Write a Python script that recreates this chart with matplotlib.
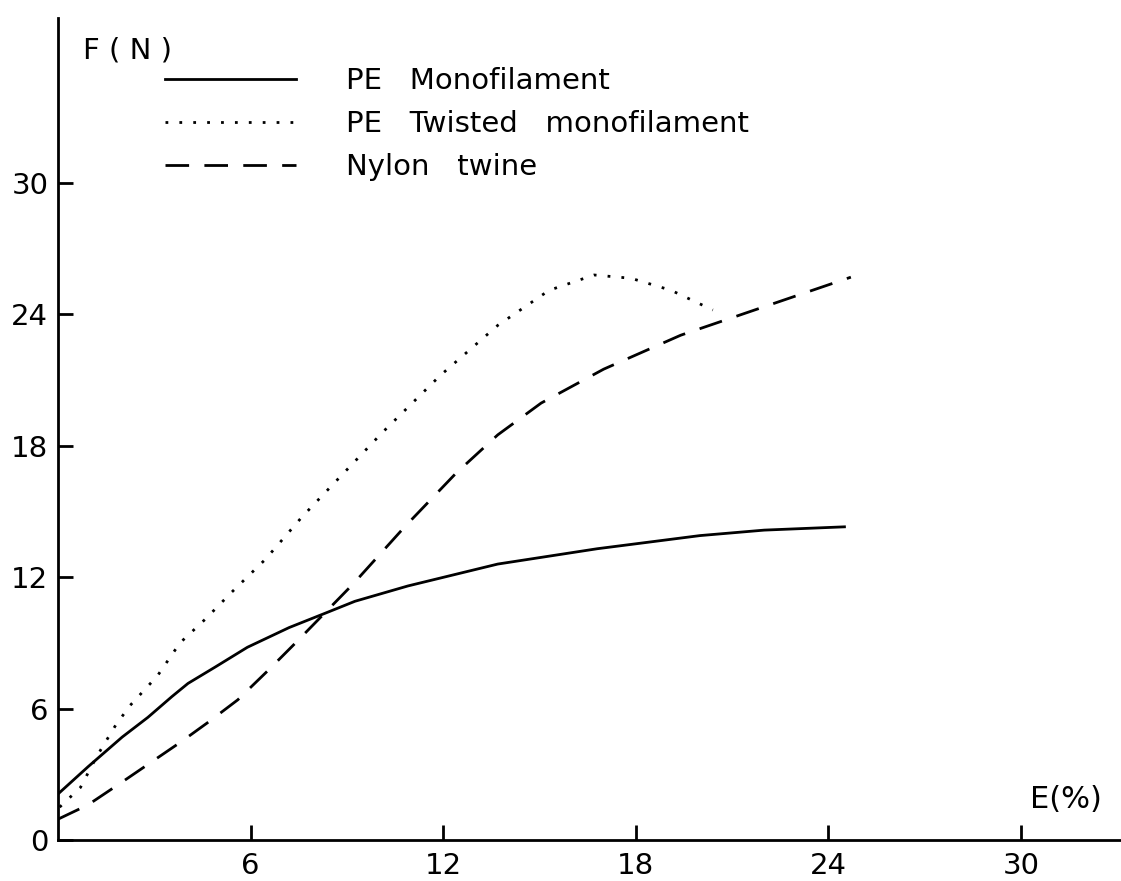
import matplotlib
matplotlib.use('Agg')
from matplotlib import pyplot as plt

plt.rcParams['font.family'] = ['DejaVu Sans']

# PE monofilament (solid)
mono_e = [0, 0.94, 2.0, 2.8, 3.55, 4.05, 4.9, 5.9, 7.2, 8.4, 9.25, 10.9,
          13.7, 16.8, 20.0, 22.0, 24.5]
mono_f = [2.1, 3.35, 4.7, 5.6, 6.55, 7.15, 7.9, 8.8, 9.7, 10.4, 10.9, 11.6,
          12.6, 13.3, 13.9, 14.15, 14.3]

# PE twisted monofilament (dotted)
twist_e = [0.05, 0.7, 1.2, 1.8, 2.25, 3.1, 3.8, 4.6, 5.4, 6.45, 7.6, 8.8,
           10.1, 11.0, 11.9, 13.7, 15.3, 16.7, 17.85, 19.1, 20.4]
twist_f = [1.5, 2.4, 3.8, 5.25, 6.15, 7.5, 9.0, 10.1, 11.3, 12.8, 14.75, 16.6,
           18.6, 19.9, 21.2, 23.5, 25.1, 25.8, 25.65, 25.1, 24.2]

# Nylon twine (dashed)
nylon_e = [0, 0.93, 2.0, 2.9, 3.85, 4.7, 5.6, 6.55, 7.4, 8.3, 9.2, 10.8,
           12.4, 13.7, 15.05, 17.0, 19.4, 21.5, 24.7]
nylon_f = [0.95, 1.6, 2.65, 3.55, 4.5, 5.4, 6.4, 7.75, 9.0, 10.35, 11.7, 14.3,
           16.75, 18.5, 19.95, 21.5, 23.05, 24.1, 25.7]

ticks = [0, 6, 12, 18, 24, 30]

fig = plt.figure(figsize=(11.21, 8.81), dpi=100)
ax = fig.add_axes([58/1121, 41/881, (1121-58)/1121, (840-18)/881])

lw = 2.0
ax.plot(mono_e, mono_f, color='black', lw=lw, label='PE   Monofilament')
ax.plot(twist_e, twist_f, color='black', lw=lw, linestyle=(0, (1, 4)),
        label='PE   Twisted   monofilament')
ax.plot(nylon_e, nylon_f, color='black', lw=lw, linestyle=(0, (8.5, 5.5)),
        label='Nylon   twine')

ax.set_xlim(0, (1121-58)/32.1)
ax.set_ylim(0, (840-18)/21.9)
ax.spines['top'].set_visible(False)
ax.spines['right'].set_visible(False)
ax.spines['left'].set_linewidth(2)
ax.spines['bottom'].set_linewidth(2)

ax.set_xticks(ticks[1:])
ax.set_yticks(ticks)
ax.tick_params(direction='in', length=11, width=2, labelsize=21, pad=7)
ax.tick_params(axis='x', pad=9)

fig.text(83/1121, 1-51/881, 'F ( N )', fontsize=21, va='center', ha='left')
fig.text(1030/1121, 1-800/881, 'E(%)', fontsize=22, va='center', ha='left')

ax.legend(loc='upper left', bbox_to_anchor=(165/1121, 1-67/881),
          bbox_transform=fig.transFigure, frameon=False, fontsize=21,
          handlelength=4.5, handletextpad=1.7, labelspacing=0.52,
          borderpad=0, borderaxespad=0)

fig.savefig('out.png', dpi=100)
